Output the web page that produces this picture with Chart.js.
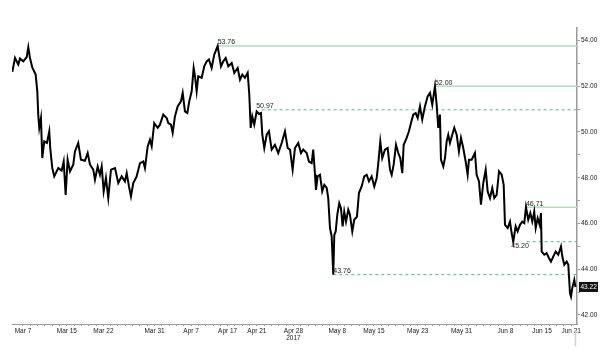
<!DOCTYPE html>
<html>
<head>
<meta charset="utf-8">
<script src="https://cdn.jsdelivr.net/npm/chart.js@4"></script>
<style>
  html, body { margin: 0; padding: 0; background: #fff; }
  #wrap { width: 600px; height: 351px; }
</style>
</head>
<body>
<div id="wrap"><canvas id="chart"></canvas></div>
<script>
// Trading-session index (Mar 7 = 0) and price.
const sessionDays = [
  -1.46, -1.09, -0.64, -0.41, 0.04, 0.51, 0.73, 0.96, 1.27, 1.74, 1.96, 2.09, 2.23, 2.46, 2.64, 2.91, 3.28, 3.60, 3.73, 4.01,
  4.28, 4.83, 5.29, 5.57, 5.84, 6.11, 6.43, 6.88, 7.11, 7.56, 7.93, 8.48, 8.85, 9.17, 9.62, 9.85, 10.22, 10.53, 10.77, 11.04,
  11.35, 11.67, 12.04, 12.59, 13.04, 13.50, 13.95, 14.19, 14.50, 14.77, 15.09, 15.55, 16.01, 16.46, 16.69, 17.06, 17.37, 17.61, 17.96, 18.43,
  18.74, 19.19, 19.66, 19.88, 20.25, 20.48, 20.79, 21.16, 21.61, 21.85, 22.16, 22.48, 22.75, 23.08, 23.35, 23.53, 23.76, 23.98, 24.45, 24.80,
  25.13, 25.44, 25.81, 26.17, 26.63, 27.09, 27.40, 27.73, 28.09, 28.55, 28.91, 29.37, 29.69, 30.00, 30.37, 30.74, 30.96, 31.15, 31.37, 31.64,
  31.97, 32.28, 32.56, 32.74, 33.01, 33.34, 33.65, 34.02, 34.47, 34.92, 35.39, 35.84, 36.21, 36.53, 36.89, 37.21, 37.66, 38.03, 38.34, 38.81,
  39.12, 39.49, 39.71, 39.95, 40.08, 40.31, 40.63, 40.94, 41.22, 41.55, 41.76, 42.00, 42.23, 42.45, 42.59, 42.78, 43.00, 43.27, 43.50, 43.73,
  43.95, 44.19, 44.50, 44.73, 45.05, 45.32, 45.69, 45.96, 46.33, 46.69, 47.02, 47.33, 47.70, 48.06, 48.39, 48.61, 48.88, 49.15, 49.52, 49.89,
  50.21, 50.44, 50.71, 51.03, 51.34, 51.61, 51.89, 52.08, 52.49, 52.80, 53.08, 53.39, 53.72, 54.00, 54.31, 54.62, 54.99, 55.36, 55.68, 55.99,
  56.36, 56.59, 56.81, 57.04, 57.18, 57.50, 57.73, 57.96, 58.18, 58.41, 58.73, 59.00, 59.33, 59.64, 59.92, 60.23, 60.56, 60.83, 61.01, 61.38,
  61.83, 62.06, 62.38, 62.65, 62.97, 63.30, 63.57, 63.89, 64.20, 64.47, 64.80, 65.12, 65.49, 65.76, 65.94, 66.31, 66.62, 66.85, 67.07, 67.40,
  67.67, 67.99, 68.30, 68.58, 68.81, 69.12, 69.40, 69.67, 69.94, 70.14, 70.41, 70.68, 70.86, 70.96, 71.31, 71.64, 71.96, 72.23, 72.54, 72.87,
  73.23, 73.60, 73.78, 74.05, 74.38, 74.60, 74.83, 74.97, 75.14, 75.42, 75.58
];
const prices = [
  52.63, 53.24, 52.95, 53.21, 53.09, 53.27, 53.71, 53.24, 52.83, 52.51, 51.78, 50.76, 50.18, 50.61, 48.86, 49.59, 49.52, 50.03, 49.30, 48.42,
  48.06, 48.42, 48.31, 48.71, 47.25, 48.79, 48.28, 48.57, 49.15, 49.52, 48.79, 48.74, 49.08, 48.57, 48.35, 47.91, 48.49, 48.13, 48.49, 47.40,
  47.99, 47.11, 48.35, 48.42, 47.77, 48.06, 47.84, 48.20, 47.62, 47.18, 47.77, 48.06, 48.64, 48.71, 48.42, 49.37, 49.66, 49.37, 50.39, 50.18,
  50.32, 50.76, 50.61, 50.39, 50.32, 49.96, 50.68, 51.12, 51.34, 51.71, 50.90, 50.83, 51.34, 51.78, 52.80, 52.44, 51.78, 52.44, 52.37, 52.87,
  53.09, 53.17, 52.80, 53.39, 53.76, 52.87, 53.09, 53.24, 52.87, 53.02, 52.59, 52.80, 52.29, 52.51, 52.37, 52.59, 51.63, 50.18, 50.68, 50.32,
  50.90, 50.79, 50.83, 49.88, 49.30, 49.88, 50.03, 49.23, 49.44, 49.08, 49.52, 50.03, 49.30, 49.23, 48.35, 49.30, 49.52, 49.08, 49.23, 49.08,
  48.71, 48.64, 49.23, 48.13, 47.47, 48.06, 48.13, 47.40, 47.69, 47.55, 47.11, 45.80, 45.43, 43.76, 45.50, 45.65, 46.38, 46.89, 46.67, 45.87,
  46.52, 46.08, 46.60, 46.38, 45.65, 46.16, 46.30, 47.33, 47.62, 48.06, 48.13, 47.84, 48.06, 47.62, 47.99, 48.64, 49.59, 48.86, 49.23, 49.30,
  48.35, 48.13, 48.57, 49.44, 49.08, 48.86, 48.20, 49.44, 49.74, 50.03, 50.39, 50.76, 50.83, 50.61, 51.12, 50.54, 51.12, 51.56, 51.71, 51.20,
  52.00, 51.20, 50.18, 50.76, 48.79, 48.49, 48.86, 49.59, 49.88, 49.52, 49.88, 50.18, 49.88, 49.15, 49.74, 49.30, 48.71, 48.13, 48.79, 48.79,
  49.08, 48.13, 47.84, 46.82, 47.77, 48.35, 47.40, 47.11, 47.55, 47.11, 47.25, 48.28, 48.13, 47.69, 45.94, 45.80, 46.08, 45.58, 45.20, 45.87,
  45.65, 45.94, 46.08, 46.01, 46.71, 46.16, 46.45, 46.08, 46.52, 45.80, 46.23, 45.94, 46.45, 44.77, 44.63, 44.70, 44.48, 44.33, 44.55, 44.77,
  44.63, 44.99, 44.55, 44.19, 44.33, 44.19, 42.95, 42.80, 43.17, 43.53, 43.22
];

// Date labels on the time axis (session index -> text)
const dateTickDays = [0, 6, 11, 18, 23, 28, 32, 37, 43, 48, 54, 60, 66, 71, 75];
const dateTickLabels = ['Mar 7', 'Mar 15', 'Mar 22', 'Mar 31', 'Apr 7', 'Apr 17', 'Apr 21', ['Apr 28', '2017'],
  'May 8', 'May 15', 'May 23', 'May 31', 'Jun 8', 'Jun 15', 'Jun 21'];

// Marked levels: value, session where the line starts, dashed or solid, label below?
const levelValues = [53.76, 52.00, 50.97, 46.71, 45.20, 43.76];
const levelStartDays = [26.63, 56.36, 32.65, 68.81, 68.9, 42.45];
const levelDashed = [false, false, true, false, true, true];
const levelLabelDays = [26.63, 56.36, 31.9, 68.81, 66.8, 42.45];
const levelLabelBelow = [false, false, false, false, true, false];

const lastPrice = 43.22;
const X_MIN = -1.5;
const X_MAX = 75.79;

const SOLID_GREEN = '#acdfc4';
const DASH_GREEN = '#4fb98b';
const FONT = 'Liberation Sans, Arial, sans-serif';

const priceData = sessionDays.map((d, i) => ({x: d, y: prices[i]}));

const levelSets = levelValues.map((v, i) => ({
  data: [{x: levelStartDays[i], y: v}, {x: X_MAX, y: v}],
  borderColor: levelDashed[i] ? DASH_GREEN : SOLID_GREEN,
  borderWidth: levelDashed[i] ? 1 : 1.6,
  borderDash: levelDashed[i] ? [3, 3] : [],
  pointRadius: 0,
  tension: 0,
  order: 2
}));

// Draw level labels, last price tag and the small "now" marker
const annotations = {
  id: 'annotations',
  afterDatasetsDraw(chart) {
    const ctx = chart.ctx;
    const xs = chart.scales.x;
    const ys = chart.scales.y;
    ctx.save();
    ctx.font = '7px ' + FONT;
    ctx.fillStyle = '#222';
    levelValues.forEach((v, i) => {
      const px = xs.getPixelForValue(levelLabelDays[i]);
      const py = ys.getPixelForValue(v);
      ctx.textAlign = 'left';
      if (levelLabelBelow[i]) {
        ctx.textBaseline = 'top';
        ctx.fillText(v.toFixed(2), px, py + 1);
      } else {
        ctx.textBaseline = 'bottom';
        ctx.fillText(v.toFixed(2), px, py);
      }
    });

    // last price box on the right axis
    const ly = ys.getPixelForValue(lastPrice);
    const bx = chart.chartArea.right + 2;
    ctx.fillStyle = '#111';
    ctx.fillRect(bx, ly - 5, 19, 10);
    ctx.fillStyle = '#fff';
    ctx.font = '6.5px ' + FONT;
    ctx.textAlign = 'left';
    ctx.textBaseline = 'middle';
    ctx.fillText(lastPrice.toFixed(2), bx + 1.5, ly + 0.5);

    // grey marker under the last session
    const mx = xs.getPixelForValue(sessionDays[sessionDays.length - 1]);
    ctx.strokeStyle = '#d0d0d0';
    ctx.lineWidth = 1.5;
    ctx.beginPath();
    ctx.moveTo(mx, chart.chartArea.bottom + 7);
    ctx.lineTo(mx, chart.chartArea.bottom + 22);
    ctx.stroke();
    ctx.restore();
  }
};

new Chart(document.getElementById('chart'), {
  type: 'line',
  data: {
    datasets: [{
      data: priceData,
      borderColor: '#000',
      borderWidth: 2,
      pointRadius: 0,
      tension: 0,
      order: 1
    }, ...levelSets]
  },
  options: {
    responsive: true,
    maintainAspectRatio: false,
    animation: false,
    layout: { padding: { left: 12, right: 0, top: 28, bottom: 0 } },
    plugins: { legend: { display: false }, tooltip: { enabled: false } },
    scales: {
      x: {
        type: 'linear',
        min: X_MIN,
        max: X_MAX,
        afterBuildTicks(scale) {
          const ticks = [];
          for (let d = 0; d <= 75; d++) ticks.push({value: d});
          scale.ticks = ticks;
        },
        afterFit(scale) { scale.height = 27; },
        grid: { drawOnChartArea: false, tickLength: 2, color: '#999' },
        border: { color: '#999', width: 1 },
        ticks: {
          autoSkip: false,
          maxRotation: 0,
          includeBounds: false,
          padding: 1,
          color: '#222',
          font: { family: FONT, size: 6.5 },
          callback(value) {
            const k = dateTickDays.indexOf(value);
            return k >= 0 ? dateTickLabels[k] : '';
          }
        }
      },
      y: {
        position: 'right',
        min: 41.6,
        max: 54.55,
        afterFit(scale) { scale.width = 23; },
        grid: { drawOnChartArea: false, tickLength: 3, color: '#999' },
        border: { color: '#999', width: 1.5 },
        ticks: {
          stepSize: 1,
          includeBounds: false,
          padding: 1,
          color: '#222',
          font: { family: FONT, size: 6.5 },
          callback(value) {
            return value % 2 === 0 ? value.toFixed(2) : '';
          }
        }
      }
    }
  },
  plugins: [annotations]
});
</script>
</body>
</html>
